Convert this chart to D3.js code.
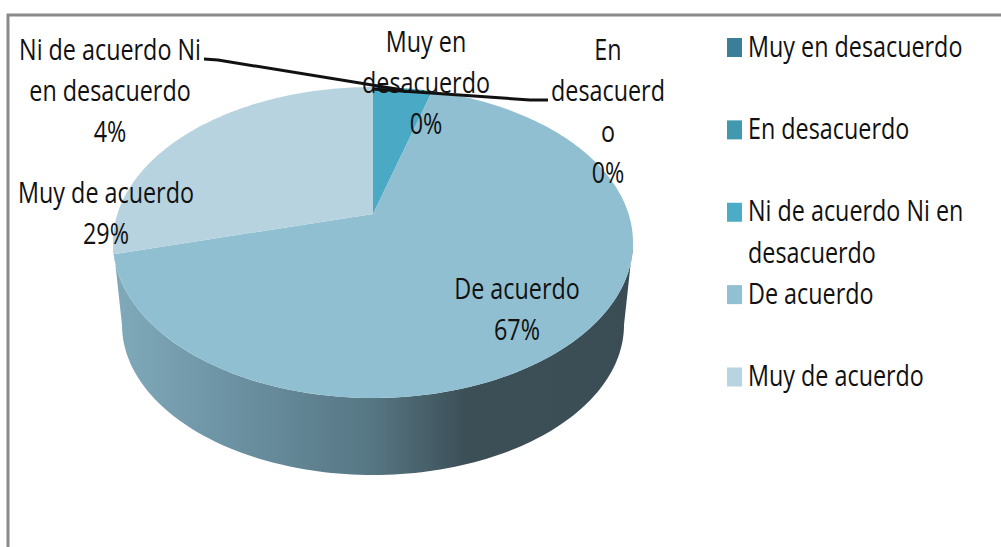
<!DOCTYPE html>
<html><head><meta charset="utf-8">
<script src="https://cdn.jsdelivr.net/npm/d3@7"></script>
<style>html,body{margin:0;padding:0;background:#fff}svg{display:block}text{font-family:"Open Sans",sans-serif;font-size:29px;fill:#111}</style>
</head><body>
<svg id="c" width="1001" height="547"></svg>
<script>
const categories = ["Muy en desacuerdo","En desacuerdo","Ni de acuerdo Ni en desacuerdo","De acuerdo","Muy de acuerdo"];
const values = [0,0,4.4,66.5,29.1];
const sliceColors = ["#3a7f97","#4199b0","#4aa9c4","#90bfd2","#b7d3df"];
const legendColors = ["#3a7f97","#4199b0","#4bacc6","#92c0d3","#b7d4e0"];
const legendLines = [["Muy en desacuerdo"],["En desacuerdo"],["Ni de acuerdo Ni en","desacuerdo"],["De acuerdo"],["Muy de acuerdo"]];
const dataLabelLines = [["Muy en","desacuerdo"],["En","desacuerd","o"],["Ni de acuerdo Ni","en desacuerdo"],["De acuerdo"],["Muy de acuerdo"]];
const labelPos = [[426,52],[608,60],[110,60],[517,299],[106,203]];
const leaderFrom = [null,[[548,100],[530,100]],[[204,59],[218,60]],null,null];
const wallStops = [[0,"#80aaba"],[0.2,"#6e95a6"],[0.5,"#567683"],[0.68,"#3c4f57"],[1,"#3b4d54"]];

const svg = d3.select("#c"), SX = 0.805, LH = 41;
const cx = 373, apexY = 214, topY = 87, botY = 398, rx = 260;
const up = apexY-topY, dn = botY-apexY;
// projective map of the unit disc to the tilted pie surface
const persp = -(dn-up)/(botY-topY);
const ka = (botY-apexY)*(1+persp);
const kx = rx*Math.sqrt(1-persp*persp);
function project(theta,r=1,shrink=1,dy=0){
  const x=r*Math.sin(theta), y=-r*Math.cos(theta), w=1+persp*y;
  return [cx+shrink*kx*x/w, apexY+dy+shrink*ka*y/w];
}
const line = d3.line();
const arcs = d3.pie().sort(null).startAngle(0).endAngle(2*Math.PI).value(d=>d)(values);

// wall: front half of the rim, between its two horizontal extremes
const t0 = Math.acos(persp) , t1 = 2*Math.PI-t0;
const steps = d3.range(0,121).map(i=>t0+(t1-t0)*i/120);
const grad = svg.append("defs").append("linearGradient").attr("id","wall").attr("gradientUnits","userSpaceOnUse")
  .attr("x1",cx-rx).attr("x2",cx+rx).attr("y1",0).attr("y2",0);
grad.selectAll("stop").data(wallStops).join("stop").attr("offset",d=>d[0]).attr("stop-color",d=>d[1]);
const depthShrink = 251/260, depthDy = 77+ (1-depthShrink)*dn;
const wall = steps.map(t=>project(t)).concat(steps.slice().reverse().map(t=>project(t,1,depthShrink,depthDy)));
svg.append("path").attr("d",line(wall)+"Z").attr("fill","url(#wall)");

// top surface
svg.selectAll("path.slice").data(arcs.filter(d=>d.value>0)).join("path").attr("class","slice")
  .attr("fill",d=>sliceColors[d.index])
  .attr("d",d=>{
    const n=Math.max(2,Math.ceil((d.endAngle-d.startAngle)*60));
    const pts=[[cx,apexY]].concat(d3.range(n+1).map(i=>project(d.startAngle+(d.endAngle-d.startAngle)*i/n)));
    return line(pts)+"Z";
  });

// frame
svg.append("path").attr("d",line([[8,547],[8,15],[1001,15]])).attr("fill","none").attr("stroke","#8a8a8a").attr("stroke-width",3);

// leaders
arcs.forEach(d=>{
  const from=leaderFrom[d.index]; if(!from) return;
  const end=project((d.startAngle+d.endAngle)/2);
  svg.append("path").attr("d",line(from.concat([[end[0],end[1]+2]]))).attr("fill","none").attr("stroke","#111").attr("stroke-width",3);
});

// data labels
arcs.forEach(d=>{
  const lines=dataLabelLines[d.index].concat([d3.format(".0f")(d.value)+"%"]);
  const [x,y]=labelPos[d.index];
  const g=svg.append("g").attr("transform",`translate(${x},${y}) scale(${SX},1)`);
  g.selectAll("text").data(lines).join("text").attr("text-anchor","middle").attr("y",(_,i)=>i*LH).text(t=>t);
});

// legend
const ly = d3.scalePoint().domain(categories).range([47.5,377]);
const leg = svg.selectAll("g.leg").data(categories).join("g").attr("class","leg");
leg.append("rect").attr("x",727).attr("width",15).attr("height",19).attr("y",d=>ly(d)-9.5).attr("fill",(d,i)=>legendColors[i]);
leg.each(function(d,i){
  const g=d3.select(this).append("g").attr("transform",`translate(748,${ly(d)+9}) scale(${SX},1)`);
  g.selectAll("text").data(legendLines[i]).join("text").attr("y",(_,j)=>j*42).text(t=>t);
});
</script>
</body></html>
